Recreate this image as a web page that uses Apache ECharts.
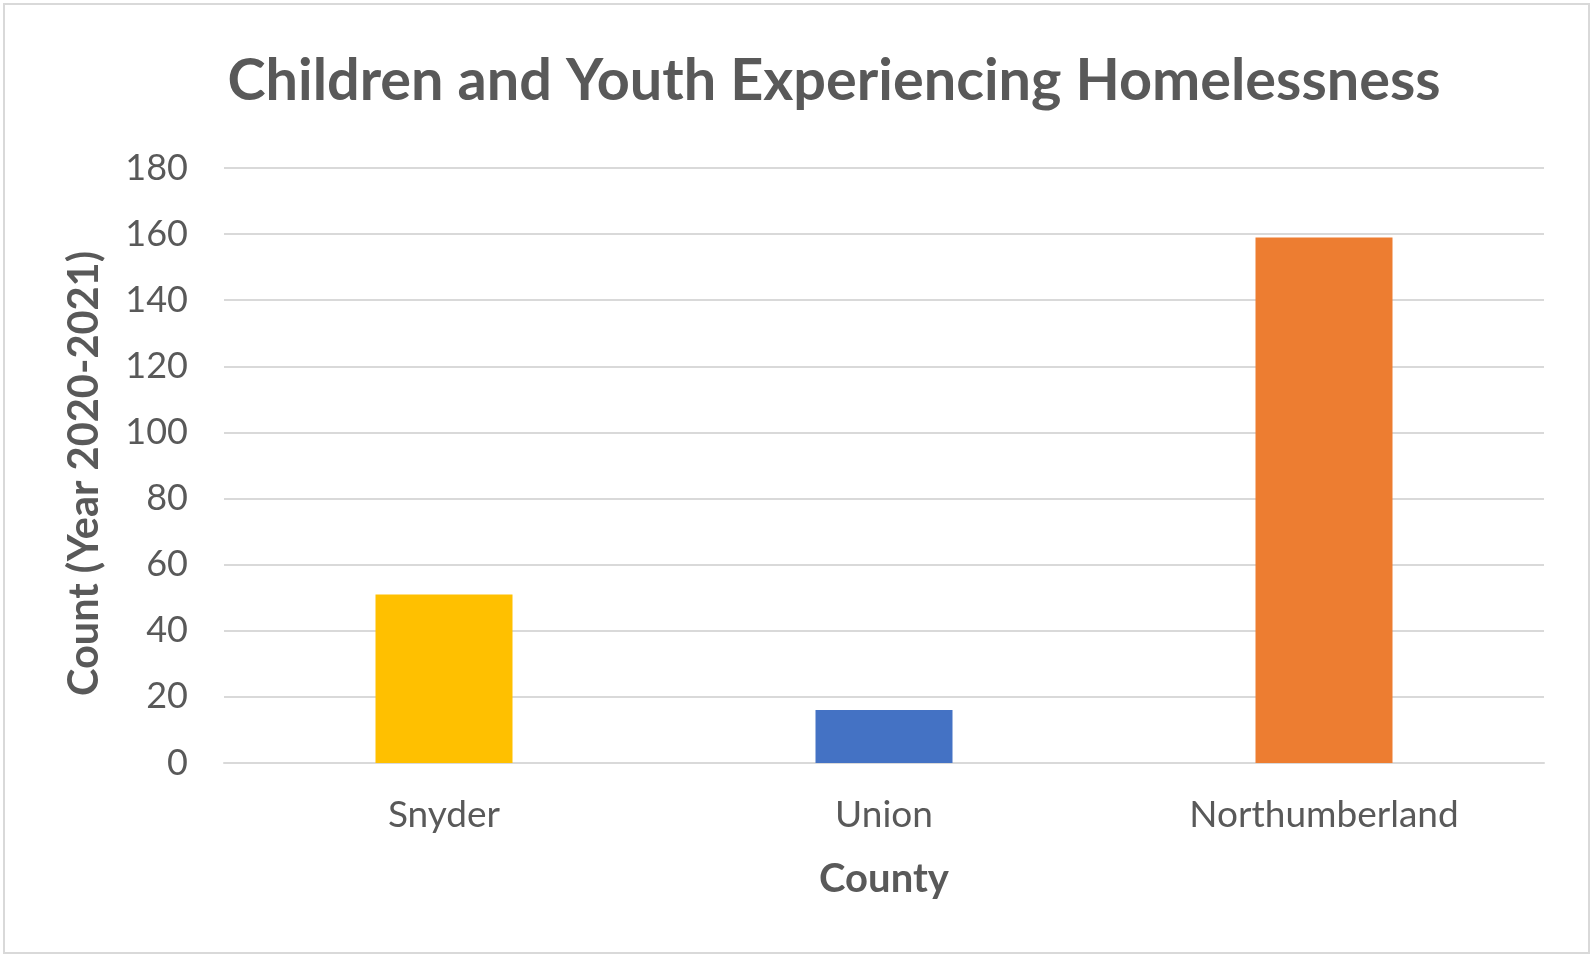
<!DOCTYPE html>
<html>
<head>
<meta charset="utf-8">
<script src="https://cdn.jsdelivr.net/npm/echarts@6/dist/echarts.min.js"></script>
<style>
  html, body { margin: 0; padding: 0; background: #fff; }
  #frame { position: absolute; left: 3px; top: 3px; width: 1587px; height: 951px; border: 2px solid #d9d9d9; box-sizing: border-box; }
  #chart { position: absolute; left: 0; top: 0; width: 1593px; height: 958px; }
</style>
</head>
<body>
<div id="frame"></div>
<div id="chart"></div>
<script>
// data
const counties = ["Snyder", "Union", "Northumberland"];
const counts = [51, 16, 159];
const barColors = ["#ffc000", "#4472c4", "#ed7d31"];

const chart = echarts.init(document.getElementById("chart"));
const font = "Lato, 'Open Sans', sans-serif";
const grey = "#595959";

chart.setOption({
  animation: false,
  title: {
    text: "Children and Youth Experiencing Homelessness",
    left: 829,
    top: 47,
    textAlign: "center",
    textStyle: { color: grey, fontSize: 57.6, fontWeight: "bold", fontFamily: font },
  },
  grid: { left: 224, right: 49, top: 168, bottom: 195 },
  xAxis: {
    type: "category",
    data: counties,
    name: "County",
    nameLocation: "middle",
    nameGap: 96,
    nameTextStyle: { color: grey, fontSize: 40, fontWeight: "bold", fontFamily: font },
    axisTick: { show: false },
    axisLine: { lineStyle: { color: "#d9d9d9", width: 2 } },
    axisLabel: { color: grey, fontSize: 37, fontFamily: font, margin: 34 },
  },
  yAxis: {
    type: "value",
    min: 0,
    max: 180,
    interval: 20,
    name: "Count (Year 2020-2021)",
    nameLocation: "middle",
    nameGap: 118,
    nameTextStyle: { color: grey, fontSize: 41.5, fontWeight: "bold", fontFamily: font, padding: [0, 16, 0, 0] },
    axisLabel: { color: grey, fontSize: 36, fontFamily: font, margin: 36 },
    splitLine: { lineStyle: { color: "#d9d9d9", width: 2 } },
  },
  series: [
    {
      type: "bar",
      barWidth: 137,
      data: counts.map((v, i) => ({ value: v, itemStyle: { color: barColors[i] } })),
    },
  ],
});
</script>
</body>
</html>
